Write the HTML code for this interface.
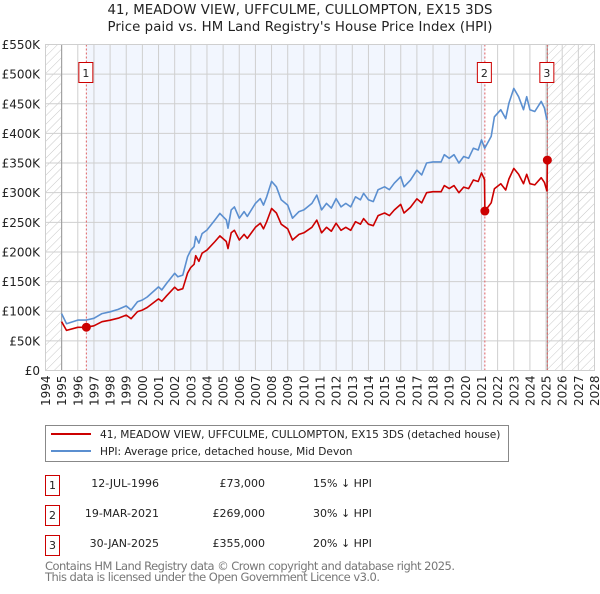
<!DOCTYPE html>
<html><head><meta charset="utf-8"><style>
body{margin:0;background:#fff;font-family:"DejaVu Sans","Liberation Sans",sans-serif;}
svg text{font-family:"DejaVu Sans","Liberation Sans",sans-serif;}
</style></head><body>
<svg id="chart" width="600" height="590" viewBox="0 0 600 590" xmlns="http://www.w3.org/2000/svg">
<defs>
<pattern id="hatch" width="6" height="6" patternUnits="userSpaceOnUse" patternTransform="rotate(45)">
<line x1="0" y1="0" x2="0" y2="6" stroke="#c8c8c8" stroke-width="1"/>
</pattern>
</defs>
<text x="300" y="14" text-anchor="middle" font-size="13.3" fill="#222" textLength="385">41, MEADOW VIEW, UFFCULME, CULLOMPTON, EX15 3DS</text>
<text x="300" y="31" text-anchor="middle" font-size="13.3" fill="#222" textLength="385">Price paid vs. HM Land Registry's House Price Index (HPI)</text>
<g id="plot"></g>
<rect x="45.5" y="425.5" width="463" height="36" fill="#fff" stroke="#888"/>
<line x1="51" y1="434" x2="91" y2="434" stroke="#cc0000" stroke-width="2"/>
<text x="100" y="438" font-size="10.6" fill="#222">41, MEADOW VIEW, UFFCULME, CULLOMPTON, EX15 3DS (detached house)</text>
<line x1="51" y1="451" x2="91" y2="451" stroke="#5b8fd0" stroke-width="2"/>
<text x="100" y="455" font-size="10.6" fill="#222">HPI: Average price, detached house, Mid Devon</text>
<g font-size="11" fill="#222">
<rect x="45.5" y="475.5" width="14" height="20" fill="#fff" stroke="#cc0000"/>
<text x="52.5" y="489" text-anchor="middle">1</text>
<text x="159" y="487" text-anchor="end">12-JUL-1996</text>
<text x="265" y="487" text-anchor="end">£73,000</text>
<text x="313" y="487">15% ↓ HPI</text>
<rect x="45.5" y="505.5" width="14" height="20" fill="#fff" stroke="#cc0000"/>
<text x="52.5" y="519" text-anchor="middle">2</text>
<text x="159" y="517" text-anchor="end">19-MAR-2021</text>
<text x="265" y="517" text-anchor="end">£269,000</text>
<text x="313" y="517">30% ↓ HPI</text>
<rect x="45.5" y="535.5" width="14" height="20" fill="#fff" stroke="#cc0000"/>
<text x="52.5" y="549" text-anchor="middle">3</text>
<text x="159" y="547" text-anchor="end">30-JAN-2025</text>
<text x="265" y="547" text-anchor="end">£355,000</text>
<text x="313" y="547">20% ↓ HPI</text>
</g>
<text x="45" y="570" font-size="11.5" fill="#777" textLength="410">Contains HM Land Registry data © Crown copyright and database right 2025.</text>
<text x="45" y="581" font-size="11.5" fill="#777" textLength="335">This data is licensed under the Open Government Licence v3.0.</text>
</svg>
<script>
const hpiYears = [1995.0,1995.3,1996.0,1996.5,1997.0,1997.5,1998.0,1998.5,1999.0,1999.3,1999.7,2000.0,2000.3,2001.0,2001.2,2001.5,2002.0,2002.2,2002.5,2002.8,2003.0,2003.2,2003.3,2003.5,2003.7,2004.0,2004.5,2004.8,2005.2,2005.3,2005.5,2005.7,2006.0,2006.3,2006.5,2007.0,2007.3,2007.5,2007.7,2008.0,2008.3,2008.6,2009.0,2009.3,2009.7,2010.0,2010.5,2010.8,2011.1,2011.4,2011.7,2012.0,2012.3,2012.6,2012.9,2013.2,2013.5,2013.7,2014.0,2014.3,2014.6,2015.0,2015.3,2015.6,2016.0,2016.2,2016.6,2017.0,2017.3,2017.6,2018.0,2018.5,2018.7,2019.0,2019.3,2019.6,2019.9,2020.2,2020.5,2020.8,2021.0,2021.2,2021.6,2021.8,2022.2,2022.5,2022.7,2023.0,2023.3,2023.6,2023.8,2024.0,2024.3,2024.7,2024.9,2025.05];
const hpiValues = [96,79,85,85,88,96,99,103,109,102,116,119,124,141,136,147,164,158,161,192,203,209,226,215,231,237,254,265,254,240,271,276,257,268,260,282,290,279,293,319,310,288,279,257,268,271,282,296,271,282,274,290,276,282,276,293,288,299,288,285,305,310,305,316,327,310,321,338,330,350,352,352,364,358,364,350,361,358,375,372,389,375,395,428,440,425,451,476,462,440,462,440,437,454,443,423];
const saleDates = [1996.53,2021.21,2025.08];
const salePrices = [73,269,355];
const saleLabels = ["1","2","3"];
const yTicks = [0,50,100,150,200,250,300,350,400,450,500,550];
const yTickLabels = ["£0","£50K","£100K","£150K","£200K","£250K","£300K","£350K","£400K","£450K","£500K","£550K"];
const xTicks = [1994,1995,1996,1997,1998,1999,2000,2001,2002,2003,2004,2005,2006,2007,2008,2009,2010,2011,2012,2013,2014,2015,2016,2017,2018,2019,2020,2021,2022,2023,2024,2025,2026,2027,2028];

const X0=45.5,X1=594.5,Y0=370.5,Y1=44.5;
const xS=v=>X0+(v-1994)/(2028-1994)*(X1-X0);
const yS=v=>Y0-v/550*(Y0-Y1);
const NS="http://www.w3.org/2000/svg";
const g=document.getElementById('plot');
function mk(tag,attrs){const e=document.createElementNS(NS,tag);for(const k in attrs)e.setAttribute(k,attrs[k]);g.appendChild(e);return e;}
function hpiAt(t){for(let i=1;i<hpiYears.length;i++){if(t<=hpiYears[i]){const f=(t-hpiYears[i-1])/(hpiYears[i]-hpiYears[i-1]);return hpiValues[i-1]+f*(hpiValues[i]-hpiValues[i-1]);}}return hpiValues[hpiValues.length-1];}

let e;
e=mk('rect',{x:xS(saleDates[0]),y:Y1,width:xS(saleDates[1])-xS(saleDates[0]),height:Y0-Y1,fill:'#f2f6fe'});


e=mk('rect',{x:X0,y:Y1,width:xS(1995)-X0,height:Y0-Y1,fill:'url(#hatch)'});


e=mk('rect',{x:xS(saleDates[2]),y:Y1,width:X1-xS(saleDates[2]),height:Y0-Y1,fill:'url(#hatch)'});



yTicks.forEach((v,i)=>{
  e=mk('line',{x1:X0,x2:X1,y1:yS(v),y2:yS(v),stroke:'#cfcfcf','stroke-width':1});
  
  
  e=mk('text',{x:40,y:yS(v)+4.5,'text-anchor':'end','font-size':12,fill:'#222'});
  e.textContent=yTickLabels[i];
  
  
});
xTicks.forEach(v=>{
  e=mk('line',{x1:xS(v),x2:xS(v),y1:Y1,y2:Y0,stroke:'#cfcfcf','stroke-width':1});
  
  
  e=mk('text',{x:0,y:0,'text-anchor':'end','font-size':12,fill:'#222',transform:`translate(${xS(v)+4.5},${Y0+5}) rotate(-90)`});
  e.textContent=String(v);
  
  
});
[1995,saleDates[2]].forEach(v=>{
  e=mk('line',{x1:xS(v),x2:xS(v),y1:Y1,y2:Y0,stroke:'#999','stroke-width':1});
  
  
});
saleDates.forEach((d,i)=>{
  e=mk('line',{x1:xS(d),x2:xS(d),y1:Y1,y2:Y0,stroke:'#e06060','stroke-width':1,'stroke-dasharray':'2,2'});
  
  
});

let p='';hpiYears.forEach((t,i)=>{p+=(i?'L':'M')+xS(t).toFixed(1)+','+yS(hpiValues[i]).toFixed(1);});
e=mk('path',{d:p,fill:'none',stroke:'#5b8fd0','stroke-width':1.6,'stroke-linejoin':'round'});



const pts=[];
for(let k=0;k<saleDates.length;k++){
  const start=k===0?1995:saleDates[k];
  const end=k+1<saleDates.length?saleDates[k+1]:saleDates[k];
  const f=salePrices[k]/hpiAt(saleDates[k]);
  pts.push([start,hpiAt(start)*f]);
  hpiYears.forEach((t,i)=>{if(t>start&&t<end)pts.push([t,hpiValues[i]*f]);});
  if(k+1<saleDates.length)pts.push([end-0.02,hpiAt(end-0.02)*f]);
}
let rp='';pts.forEach((q,i)=>{rp+=(i?'L':'M')+xS(q[0]).toFixed(1)+','+yS(q[1]).toFixed(1);});
e=mk('path',{d:rp,fill:'none',stroke:'#cc0000','stroke-width':1.6,'stroke-linejoin':'round'});



saleDates.forEach((d,i)=>{
  e=mk('circle',{cx:xS(d),cy:yS(salePrices[i]),r:4.5,fill:'#cc0000'});
  
  
  e=mk('rect',{x:xS(d)-7.5,y:62.5,width:14,height:20,fill:'#fff',stroke:'#cc0000','stroke-width':1});
  
  
  e=mk('text',{x:xS(d)-0.5,y:77,'text-anchor':'middle','font-size':11,fill:'#222'});
  e.textContent=saleLabels[i];
  
  
});
e=mk('rect',{x:X0,y:Y1,width:X1-X0,height:Y0-Y1,fill:'none',stroke:'#cfcfcf','stroke-width':1});


</script>
</body></html>
